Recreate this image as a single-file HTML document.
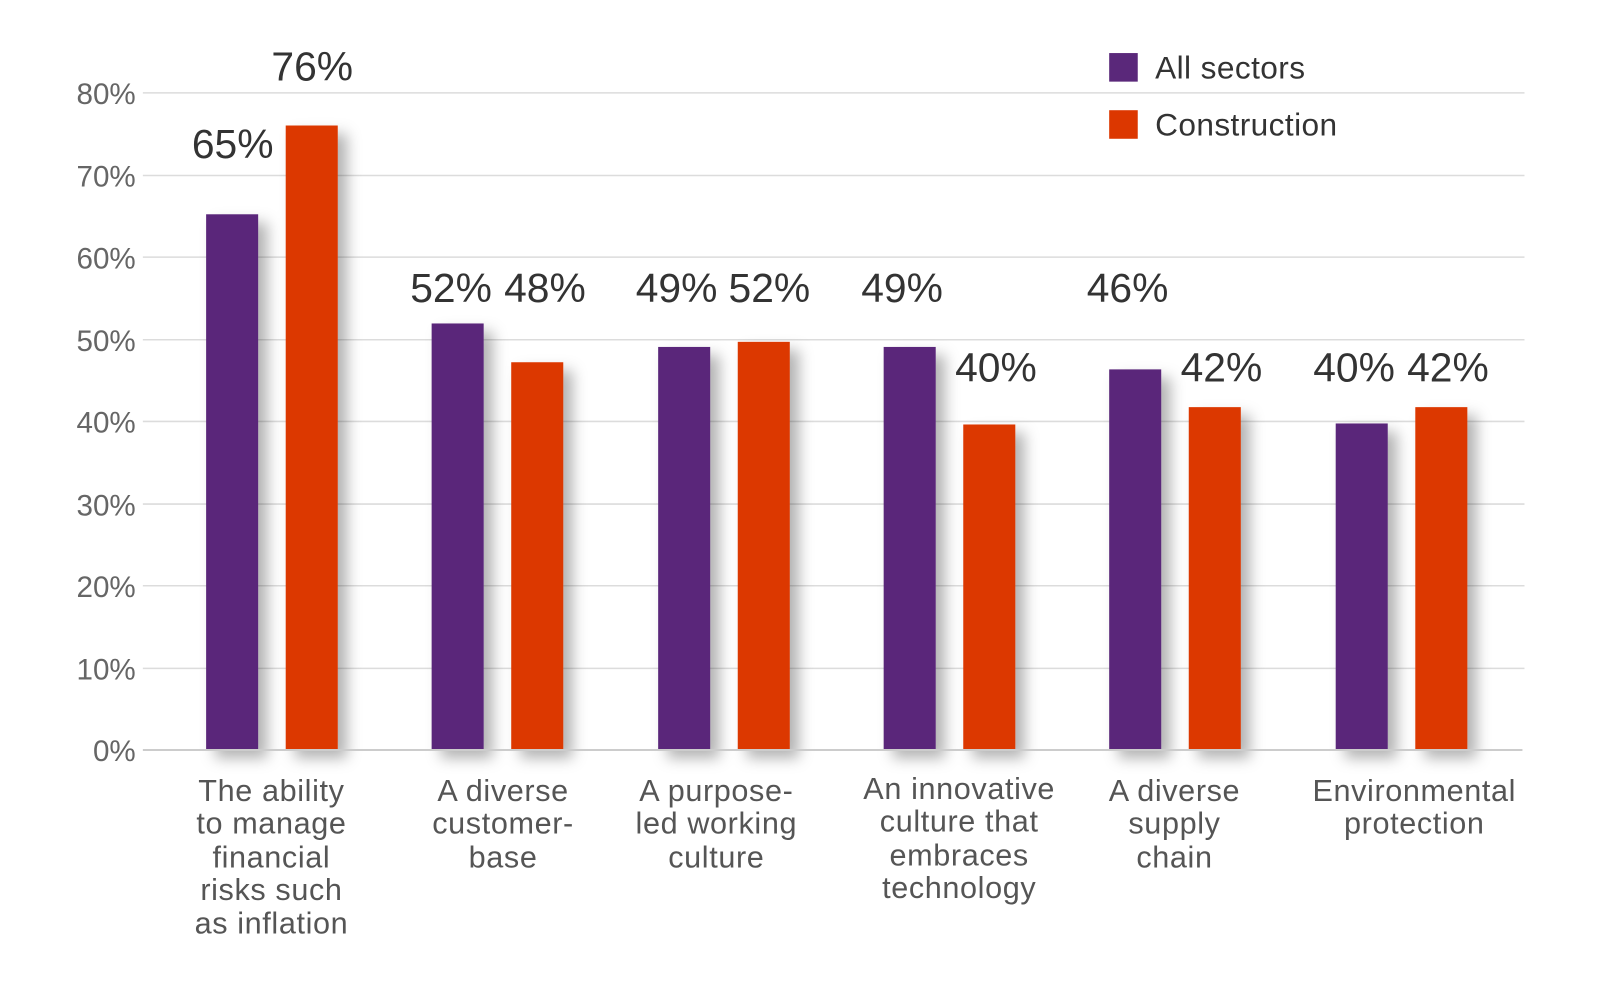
<!DOCTYPE html>
<html><head><style>
body{margin:0;background:#fff;width:1600px;height:981px;overflow:hidden;font-family:"Liberation Sans",sans-serif}
</style></head><body>
<svg width="1600" height="981" xmlns="http://www.w3.org/2000/svg" font-family="Liberation Sans, sans-serif">
<defs><filter id="s" x="-30%" y="-10%" width="180%" height="130%"><feDropShadow dx="9" dy="8" stdDeviation="7" flood-color="#000" flood-opacity="0.3"/></filter></defs>
<g transform="scale(1.0204)">
<g stroke="#dcdcdc" stroke-width="1.5">
<line x1="140" x2="1494" y1="91" y2="91"/><line x1="140" x2="1494" y1="172" y2="172"/><line x1="140" x2="1494" y1="252" y2="252"/><line x1="140" x2="1494" y1="333" y2="333"/><line x1="140" x2="1494" y1="413" y2="413"/><line x1="140" x2="1494" y1="494" y2="494"/><line x1="140" x2="1494" y1="574" y2="574"/><line x1="140" x2="1494" y1="655" y2="655"/>
</g>
<g font-size="29" fill="#666" text-anchor="end">
<text x="133" y="102">80%</text><text x="133" y="183">70%</text><text x="133" y="263">60%</text><text x="133" y="344">50%</text><text x="133" y="424">40%</text><text x="133" y="505">30%</text><text x="133" y="585">20%</text><text x="133" y="666">10%</text><text x="133" y="746">0%</text>
</g>
<g filter="url(#s)">
<rect x="202" y="210" width="51" height="525" fill="#5a287a"/><rect x="280" y="123" width="51" height="612" fill="#dc3700"/>
<rect x="423" y="317" width="51" height="418" fill="#5a287a"/><rect x="501" y="355" width="51" height="380" fill="#dc3700"/>
<rect x="645" y="340" width="51" height="395" fill="#5a287a"/><rect x="723" y="335" width="51" height="400" fill="#dc3700"/>
<rect x="866" y="340" width="51" height="395" fill="#5a287a"/><rect x="944" y="416" width="51" height="319" fill="#dc3700"/>
<rect x="1087" y="362" width="51" height="373" fill="#5a287a"/><rect x="1165" y="399" width="51" height="336" fill="#dc3700"/>
<rect x="1309" y="415" width="51" height="320" fill="#5a287a"/><rect x="1387" y="399" width="51" height="336" fill="#dc3700"/>
</g>
<line x1="140" x2="1492" y1="735" y2="735" stroke="#ccc" stroke-width="2"/>
<g font-size="40" fill="#333" text-anchor="middle">
<text x="228" y="155">65%</text><text x="306" y="79">76%</text>
<text x="442" y="296">52%</text><text x="534" y="296">48%</text>
<text x="663" y="296">49%</text><text x="754" y="296">52%</text>
<text x="884" y="296">49%</text><text x="976" y="374">40%</text>
<text x="1105" y="296">46%</text><text x="1197" y="374">42%</text>
<text x="1327" y="374">40%</text><text x="1419" y="374">42%</text>
</g>
<g font-size="30" fill="#555" text-anchor="middle" letter-spacing="0.6">
<text x="266" y="785">The ability</text><text x="266" y="817">to manage</text><text x="266" y="850">financial</text><text x="266" y="882">risks such</text><text x="266" y="915">as inflation</text>
<text x="493" y="785">A diverse</text><text x="493" y="817">customer-</text><text x="493" y="850">base</text>
<text x="702" y="785">A purpose-</text><text x="702" y="817">led working</text><text x="702" y="850">culture</text>
<text x="940" y="783">An innovative</text><text x="940" y="815">culture that</text><text x="940" y="848">embraces</text><text x="940" y="880">technology</text>
<text x="1151" y="785">A diverse</text><text x="1151" y="817">supply</text><text x="1151" y="850">chain</text>
<text x="1386" y="785">Environmental</text><text x="1386" y="817">protection</text>
</g>
<rect x="1087" y="52" width="28" height="28" fill="#5a287a"/>
<rect x="1087" y="108" width="28" height="28" fill="#dc3700"/>
<g font-size="31" fill="#333" letter-spacing="0.4"><text x="1132" y="77">All sectors</text><text x="1132" y="133">Construction</text></g>
</g>
</svg>
</body></html>
